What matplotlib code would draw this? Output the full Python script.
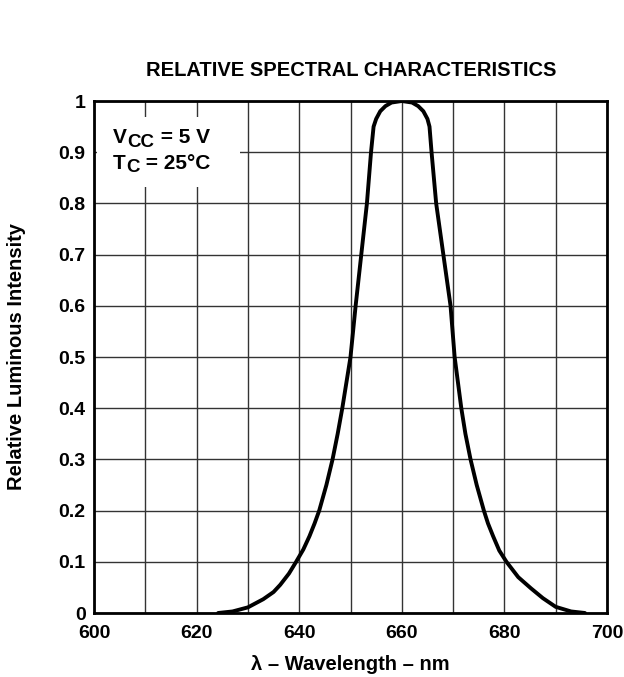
import numpy as np
import matplotlib
matplotlib.use('Agg')
import matplotlib.pyplot as plt
from matplotlib.patches import Rectangle

plt.rcParams['font.family'] = ['Liberation Sans', 'DejaVu Sans']
plt.rcParams['font.weight'] = 'bold'

# curve
wavelength = [624.2, 627, 630, 633, 635, 636.3, 638, 639.4, 640.8, 642.0, 643.0, 643.9,
              645.3, 646.5, 647.5, 648.4, 649.2, 650.0, 651.0, 652.1, 653.2, 654.0,
              654.5, 655.0, 655.8, 656.8, 658.0, 660.0, 662.0, 663.2, 664.2, 665.0,
              665.4, 665.8, 666.7, 668.1, 669.5, 670.3, 671.6, 672.4, 673.4, 674.6,
              676.0, 676.8, 677.8, 679.0, 680.4, 682.7, 685.2, 687.5, 690.0, 693.0,
              695.7]
intensity = [0.0, 0.003, 0.011, 0.027, 0.041, 0.055, 0.077, 0.10, 0.124, 0.15, 0.175, 0.20,
             0.25, 0.30, 0.35, 0.40, 0.45, 0.50, 0.60, 0.70, 0.80, 0.90,
             0.95, 0.965, 0.98, 0.99, 0.997, 1.0, 0.997, 0.99, 0.98, 0.965,
             0.95, 0.90, 0.80, 0.70, 0.60, 0.50, 0.40, 0.35, 0.30, 0.25,
             0.20, 0.175, 0.15, 0.122, 0.10, 0.07, 0.048, 0.029, 0.012, 0.003,
             0.0]

x_ticks = [600, 620, 640, 660, 680, 700]
y_ticks = [0, 0.1, 0.2, 0.3, 0.4, 0.5, 0.6, 0.7, 0.8, 0.9, 1]
y_labels = ['0', '0.1', '0.2', '0.3', '0.4', '0.5', '0.6', '0.7', '0.8', '0.9', '1']

fig = plt.figure(figsize=(6.24, 6.77), dpi=100)
ax = fig.add_axes([94/624, 1-613/677, 513/624, 512/677])

ax.set_xlim(600, 700)
ax.set_ylim(0, 1)
ax.set_xticks(x_ticks)
ax.set_xticklabels([str(v) for v in x_ticks])
ax.set_xticks(np.arange(600, 701, 10), minor=True)
ax.set_yticks(y_ticks)
ax.set_yticklabels(y_labels)
ax.tick_params(which='both', length=0, labelsize=14, pad=6)
ax.tick_params(axis='x', pad=9)
ax.grid(True, which='both', color='#333333', linewidth=1.0)
ax.set_axisbelow(True)
for s in ax.spines.values():
    s.set_linewidth(2)

ax.plot(wavelength, intensity, color='black', linewidth=2.8, solid_capstyle='round',
        solid_joinstyle='round', zorder=5)

# white box for conditions
ax.add_patch(Rectangle((0.006, 0.832), 0.279, 0.137, transform=ax.transAxes,
                       facecolor='white', edgecolor='none', zorder=3))
kw = dict(fontweight='bold', zorder=4, annotation_clip=False)
t1 = ax.text(0.037, 0.917, 'V', transform=ax.transAxes, fontsize=15,
             fontweight='bold', va='baseline', ha='left', zorder=4)
t2 = ax.annotate('CC', xy=(1, 0), xycoords=t1, xytext=(0.5, -2.5),
                 textcoords='offset points', fontsize=13.5, va='bottom', ha='left', **kw)
ax.annotate(' = 5 V', xy=(1, 0), xycoords=t2, xytext=(0, 2.5),
            textcoords='offset points', fontsize=15, va='bottom', ha='left', **kw)
t3 = ax.text(0.037, 0.868, 'T', transform=ax.transAxes, fontsize=15,
             fontweight='bold', va='baseline', ha='left', zorder=4)
t4 = ax.annotate('C', xy=(1, 0), xycoords=t3, xytext=(0.5, -2.5),
                 textcoords='offset points', fontsize=13.5, va='bottom', ha='left', **kw)
ax.annotate(' = 25°C', xy=(1, 0), xycoords=t4, xytext=(0, 2.5),
            textcoords='offset points', fontsize=15, va='bottom', ha='left', **kw)

fig.text(351/624, 1-70/677, 'RELATIVE SPECTRAL CHARACTERISTICS', ha='center', va='center',
         fontsize=14.5, fontweight='bold')
fig.text(350/624, 1-664/677, 'λ – Wavelength – nm', ha='center', va='center',
         fontsize=14.5, fontweight='bold')
fig.text(17/624, 1-357/677, 'Relative Luminous Intensity', ha='center', va='center',
         rotation=90, fontsize=14.5, fontweight='bold')

fig.savefig('out.png', dpi=100)
